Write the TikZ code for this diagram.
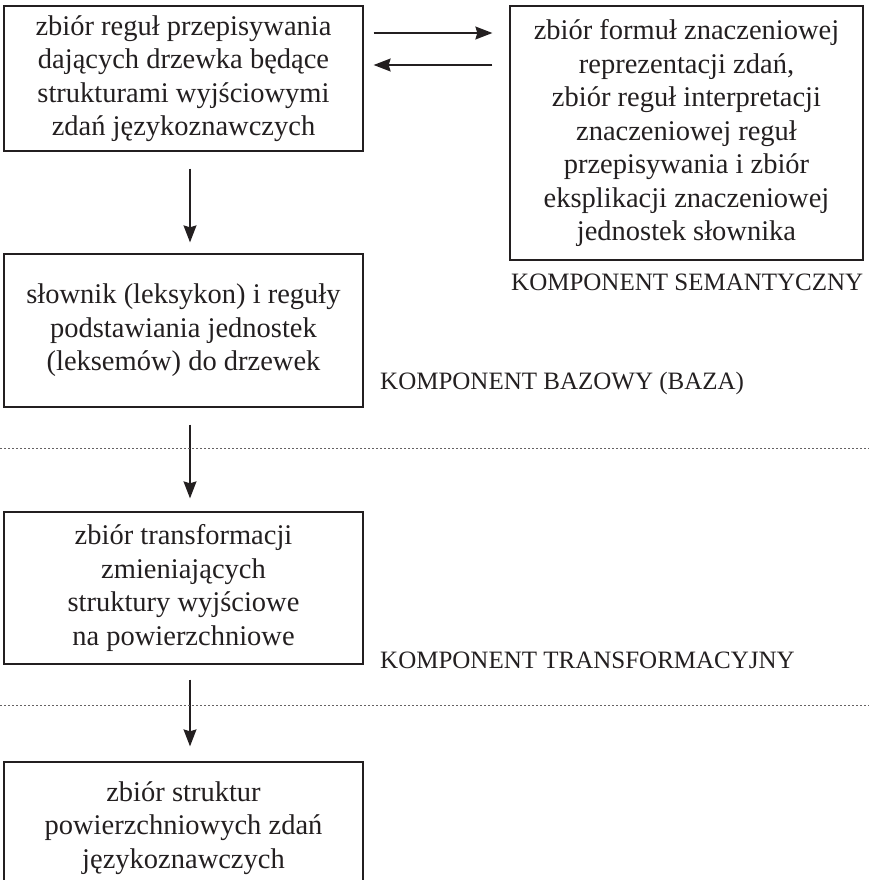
\documentclass[tikz,border=0pt]{standalone}
\usepackage{fontspec}
\setmainfont{Liberation Serif}
\usetikzlibrary{arrows.meta}
\definecolor{ink}{HTML}{231F20}
\begin{document}
\begin{tikzpicture}[x=1pt,y=-1pt,
  box/.style={draw=ink, line width=1.3pt, inner sep=0pt, align=center, text=ink,
    font=\fontsize{28.5}{33.5}\selectfont, minimum width=359pt},
  lbl/.style={anchor=base west, inner sep=0pt, text=ink, font=\fontsize{25}{30}\selectfont},
  arr/.style={draw=ink, line width=1.2pt, -{Stealth[length=17pt,width=13pt,inset=2pt]}},
  dotline/.style={draw=ink!70, line width=0.9pt, dash pattern=on 2pt off 2pt}]
\useasboundingbox (0,0) rectangle (869,880);
\node[box, minimum height=145pt] (b1) at (183.5,78.5)
  {zbiór reguł przepisywania\\dających drzewka będące\\strukturami wyjściowymi\\zdań językoznawczych};
\node[box, minimum width=353pt, minimum height=254pt] (b2) at (686.5,133)
  {zbiór formuł znaczeniowej\\reprezentacji zdań,\\zbiór reguł interpretacji\\znaczeniowej reguł\\przepisywania i zbiór\\eksplikacji znaczeniowej\\jednostek słownika};
\node[box, minimum height=153pt] (b3) at (183.5,330.5)
  {słownik (leksykon) i reguły\\podstawiania jednostek\\(leksemów) do drzewek};
\node[box, minimum height=152pt] (b4) at (183.5,588)
  {zbiór transformacji\\zmieniających\\struktury wyjściowe\\na powierzchniowe};
\node[box, minimum height=132pt] (b5) at (183.5,828)
  {zbiór struktur\\powierzchniowych zdań\\językoznawczych};
\node[lbl] (l1) at (511,290) {KOMPONENT SEMANTYCZNY};
\node[lbl] (l2) at (380,389) {KOMPONENT BAZOWY (BAZA)};
\node[lbl] (l3) at (380,668) {KOMPONENT TRANSFORMACYJNY};
\coordinate (ax) at (190,0);
\coordinate (ya) at (0,33);
\coordinate (yb) at (0,65);
\draw[arr, shorten <=17pt, shorten >=11pt] (b1.south -| ax) -- (b3.north -| ax);
\draw[arr, shorten <=17pt, shorten >=13pt] (b3.south -| ax) -- (b4.north -| ax);
\draw[arr, shorten <=15pt, shorten >=15pt] (b4.south -| ax) -- (b5.north -| ax);
\draw[arr, shorten <=10pt, shorten >=17pt] (b1.east |- ya) -- (b2.west |- ya);
\draw[arr, shorten <=17pt, shorten >=10pt] (b2.west |- yb) -- (b1.east |- yb);
\coordinate (d1l) at (0,448); \coordinate (d1r) at (869,448);
\coordinate (d2l) at (0,705); \coordinate (d2r) at (869,705);
\draw[dotline] (d1l) -- (d1r);
\draw[dotline] (d2l) -- (d2r);
\end{tikzpicture}
\end{document}
